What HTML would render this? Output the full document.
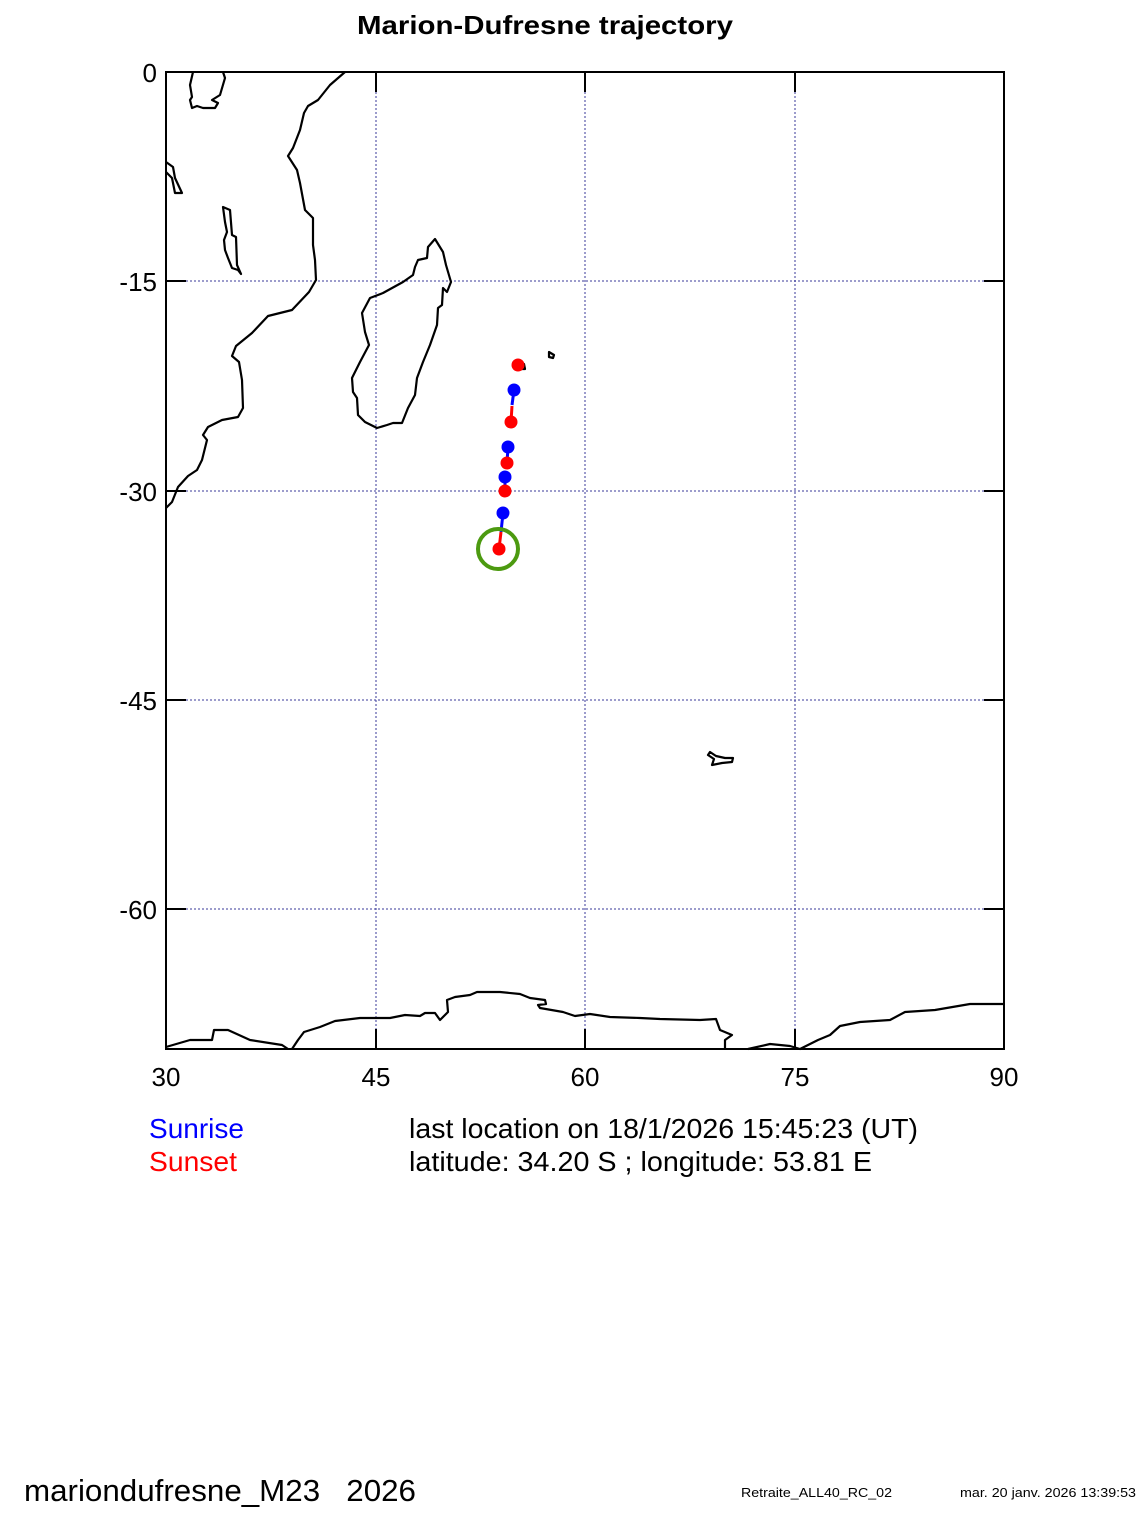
<!DOCTYPE html>
<html><head><style>body{margin:0;background:#fff}svg{display:block}text{font-family:"Liberation Sans",Arial,sans-serif;white-space:pre}</style></head><body>
<svg width="1146" height="1518" viewBox="0 0 1146 1518">
<text x="545" y="34" font-size="26" font-weight="bold" text-anchor="middle" textLength="376" lengthAdjust="spacingAndGlyphs">Marion-Dufresne trajectory</text>
<g stroke="#3a3a9a" stroke-width="1" stroke-dasharray="2,2">
<line x1="376" y1="72" x2="376" y2="1049"/><line x1="585" y1="72" x2="585" y2="1049"/><line x1="795" y1="72" x2="795" y2="1049"/>
<line x1="166" y1="281" x2="1004" y2="281"/><line x1="166" y1="491" x2="1004" y2="491"/><line x1="166" y1="700" x2="1004" y2="700"/><line x1="166" y1="909" x2="1004" y2="909"/>
</g>
<g fill="none" stroke="#000" stroke-width="2.2" stroke-linejoin="round">
<polyline points="345,72 330,85 318,100 308,106 304,113 300,130 293,148 288,156 297,170 300,183 305,210 313,218 313,245 315,260 316,280 309,292 292,310 268,316 252,333 236,346 232,356 239,362 242,380 243,408 238,417 222,420 208,427 203,435 207,440 202,460 197,470 188,476 178,487 172,502 166,508"/>
<polygon points="435,239 443,252 446,265 451,282 447,292 443,288 442,305 438,308 437,325 430,345 423,362 417,378 415,395 408,408 402,423 393,423 387,425 377,428 365,422 358,415 357,398 353,392 352,378 360,362 369,345 365,332 362,313 370,298 383,293 403,282 413,275 415,267 418,260 427,258 428,247"/>
<polyline points="193,72 190,85 192,97 190,100 192,108 197,106 203,108 215,108 218,103 212,100 220,95 225,78 223,72"/>
<polyline points="166,162 173,167 175,178 182,193 175,193 172,178 166,172"/>
<polygon points="223,207 230,210 232,235 236,237 237,265 241,274 238,270 232,268 228,258 225,250 224,240 227,232 225,222"/>
<polyline points="166,1047 190,1040 212,1040 214,1030 228,1030 250,1040 282,1045 288,1049"/>
<polyline points="292,1049 298,1040 304,1032 320,1027 335,1021 360,1018 390,1018 405,1015 420,1016 425,1013 435,1013 440,1020 448,1012 447,1000 455,997 470,995 477,992 500,992 520,994 530,998 545,1000 546,1004 538,1005 540,1008 563,1012 575,1016 590,1014 610,1017 640,1018 660,1019 700,1020 716,1019 720,1030 732,1035 725,1040 725,1049"/>
<polyline points="748,1049 770,1044 790,1046 800,1049 818,1040 830,1035 840,1026 860,1022 890,1020 905,1012 935,1010 970,1004 1004,1004"/>
<polygon points="710,752 716,756 725,758 733,758 732,762 722,763 712,765 714,759 708,755"/>
<polygon points="549,352 554,355 553,358 549,357"/>
<polygon points="519,362 524,364 525,369 520,369"/>
</g>
<g stroke-width="3">
<line x1="514" y1="390" x2="512" y2="405" stroke="#0000ff"/>
<line x1="512" y1="406" x2="511" y2="422" stroke="#ff0000"/>
<line x1="508" y1="447" x2="507" y2="463" stroke="#0000ff"/>
<line x1="505" y1="477" x2="505" y2="491" stroke="#0000ff"/>
<line x1="503" y1="513" x2="501" y2="532" stroke="#0000ff"/>
<line x1="501" y1="532" x2="499" y2="549" stroke="#ff0000"/>
</g>
<g fill="#0000ff"><circle cx="514" cy="390" r="6.5"/><circle cx="508" cy="447" r="6.5"/><circle cx="505" cy="477" r="6.5"/><circle cx="503" cy="513" r="6.5"/></g>
<g fill="#ff0000"><circle cx="518" cy="365" r="6.5"/><circle cx="511" cy="422" r="6.5"/><circle cx="507" cy="463" r="6.5"/><circle cx="505" cy="491" r="6.5"/><circle cx="499" cy="549" r="6.5"/></g>
<circle cx="498" cy="549" r="20" fill="none" stroke="#4c9a10" stroke-width="4"/>
<rect x="166" y="72" width="838" height="977" fill="none" stroke="#000" stroke-width="2"/>
<g stroke="#000" stroke-width="2">
<line x1="376" y1="72" x2="376" y2="92"/><line x1="585" y1="72" x2="585" y2="92"/><line x1="795" y1="72" x2="795" y2="92"/>
<line x1="376" y1="1029" x2="376" y2="1049"/><line x1="585" y1="1029" x2="585" y2="1049"/><line x1="795" y1="1029" x2="795" y2="1049"/>
<line x1="166" y1="281" x2="186" y2="281"/><line x1="166" y1="491" x2="186" y2="491"/><line x1="166" y1="700" x2="186" y2="700"/><line x1="166" y1="909" x2="186" y2="909"/>
<line x1="984" y1="281" x2="1004" y2="281"/><line x1="984" y1="491" x2="1004" y2="491"/><line x1="984" y1="700" x2="1004" y2="700"/><line x1="984" y1="909" x2="1004" y2="909"/>
</g>
<g font-size="26" text-anchor="end">
<text x="157" y="82">0</text><text x="157" y="291">-15</text><text x="157" y="501">-30</text><text x="157" y="710">-45</text><text x="157" y="919">-60</text>
</g>
<g font-size="26" text-anchor="middle">
<text x="166" y="1086">30</text><text x="376" y="1086">45</text><text x="585" y="1086">60</text><text x="795" y="1086">75</text><text x="1004" y="1086">90</text>
</g>
<text x="149" y="1138" font-size="28" fill="#0000ff" textLength="95" lengthAdjust="spacingAndGlyphs">Sunrise</text>
<text x="149" y="1171" font-size="28" fill="#ff0000" textLength="88" lengthAdjust="spacingAndGlyphs">Sunset</text>
<text x="409" y="1138" font-size="28" textLength="509" lengthAdjust="spacingAndGlyphs">last location on 18/1/2026 15:45:23 (UT)</text>
<text x="409" y="1171" font-size="28" textLength="463" lengthAdjust="spacingAndGlyphs">latitude: 34.20 S ; longitude: 53.81 E</text>
<text x="24" y="1501" font-size="31" textLength="392" lengthAdjust="spacingAndGlyphs">mariondufresne_M23   2026</text>
<text x="741" y="1497" font-size="13" textLength="151" lengthAdjust="spacingAndGlyphs">Retraite_ALL40_RC_02</text>
<text x="960" y="1497" font-size="13" textLength="176" lengthAdjust="spacingAndGlyphs">mar. 20 janv. 2026 13:39:53</text>
</svg>
</body></html>
